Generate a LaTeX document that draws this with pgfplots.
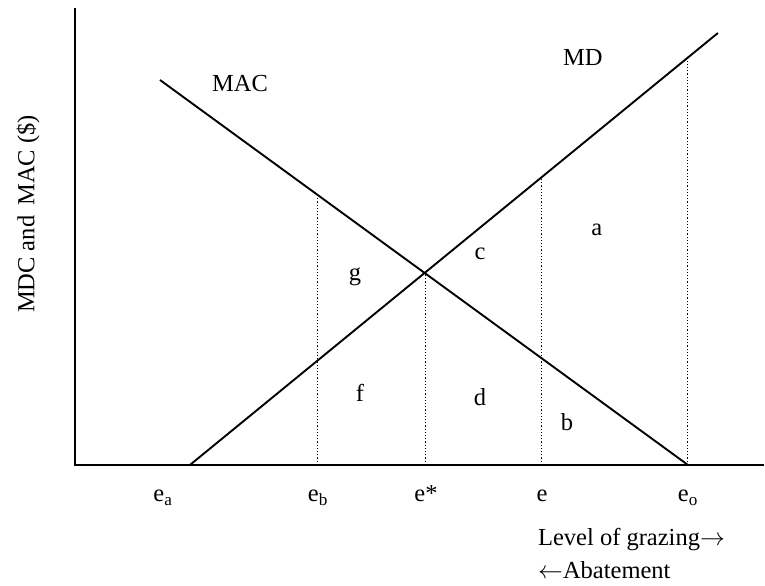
\documentclass[border=0pt]{standalone}
\usepackage{fontspec}
\setmainfont{Liberation Serif}
\usepackage{pgfplots}
\pgfplotsset{compat=1.18}
\tikzset{lbl/.style={font=\fontsize{24.5}{28}\selectfont, inner sep=0pt}}
\begin{document}
\begin{tikzpicture}
\begin{axis}[
  scale only axis, width=765pt, height=586pt,
  xmin=0, xmax=765, ymin=0, ymax=586,
  hide axis, clip=false,
]
% frame for bounding box
\addplot[draw=none] coordinates {(0,0) (765,586)};
% axes
\addplot[black, line width=2.2pt] coordinates {(75,578) (75,121) (764,121)};
% MD and MAC
\addplot[black, line width=1.9pt] coordinates {(190,121) (718,553)};
\addplot[black, line width=1.9pt] coordinates {(160,506) (688,121)};
% dotted verticals
\addplot[black, line width=1pt, dash pattern=on 1.2pt off 2pt] coordinates {(318,121) (318,391)};
\addplot[black, line width=1pt, dash pattern=on 1.2pt off 2pt] coordinates {(426,121) (426,314)};
\addplot[black, line width=1pt, dash pattern=on 1.2pt off 2pt] coordinates {(542,121) (542,409)};
\addplot[black, line width=1pt, dash pattern=on 1.2pt off 2pt] coordinates {(688,121) (688,528)};
% labels
\node[lbl] at (axis cs:240,502) {MAC};
\node[lbl] at (axis cs:583,528) {MD};
\node[lbl] at (axis cs:355,309) {g};
\node[lbl] at (axis cs:480,332) {c};
\node[lbl] at (axis cs:597,356) {a};
\node[lbl] at (axis cs:360,193) {f};
\node[lbl] at (axis cs:480,189) {d};
\node[lbl] at (axis cs:567,164) {b};
\node[lbl,anchor=base] at (axis cs:163,84) {e\textsubscript{a}};
\node[lbl,anchor=base] at (axis cs:318,84) {e\textsubscript{b}};
\node[lbl,anchor=base] at (axis cs:426,84) {e*};
\node[lbl,anchor=base] at (axis cs:542,84) {e};
\node[lbl,anchor=base] at (axis cs:688,84) {e\textsubscript{o}};
\node[lbl,anchor=base west] at (axis cs:538,40) {Level of grazing$\rightarrow$};
\node[lbl,anchor=base west] at (axis cs:538,7) {$\leftarrow$Abatement};
\node[lbl,rotate=90] at (axis cs:28,372) {MDC and\, MAC (\$)};
\end{axis}
\end{tikzpicture}
\end{document}
